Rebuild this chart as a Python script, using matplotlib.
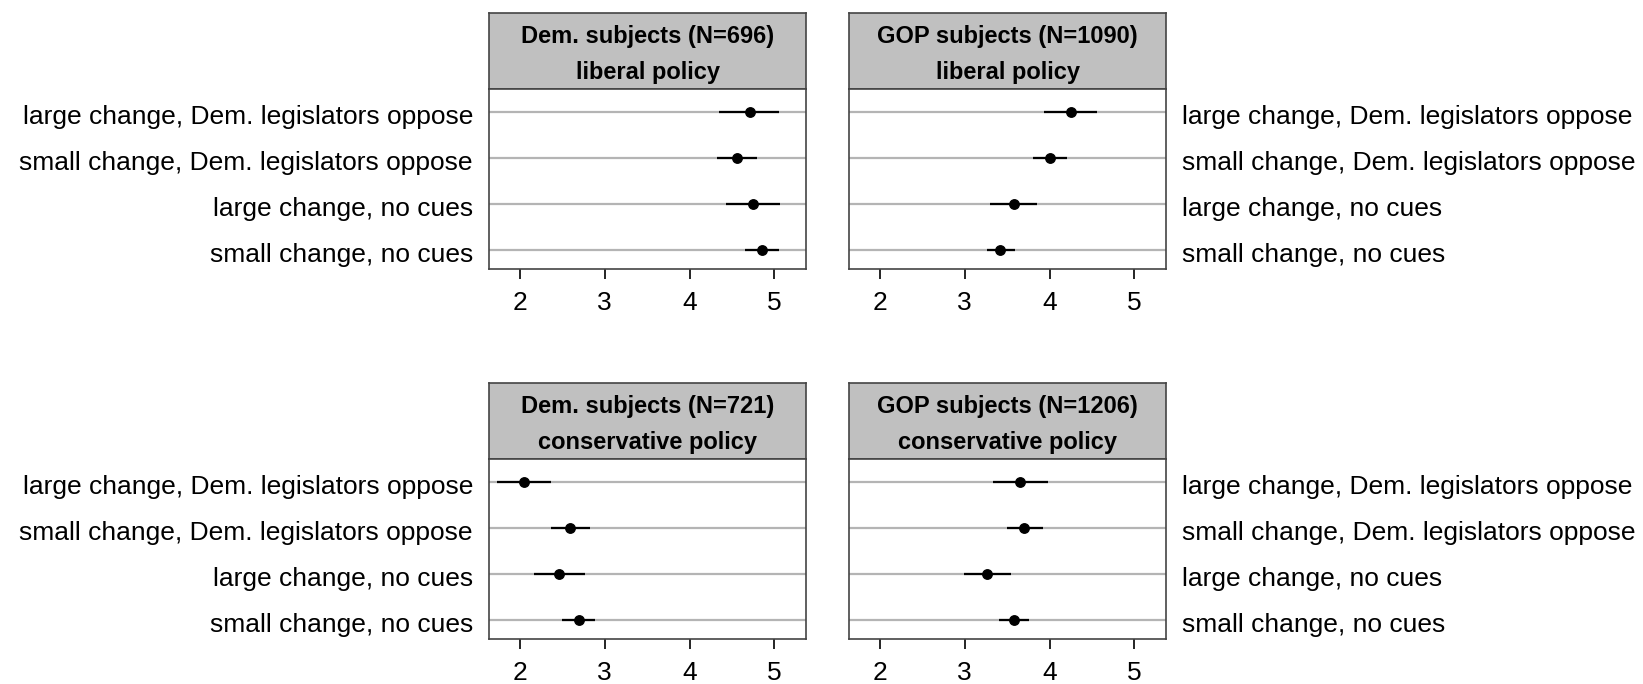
import numpy as np
import matplotlib.pyplot as plt

plt.rcParams['font.family'] = ['Liberation Sans', 'DejaVu Sans']

conditions = ['large change, Dem. legislators oppose',
              'small change, Dem. legislators oppose',
              'large change, no cues',
              'small change, no cues']

titles = [('Dem. subjects (N=696)', 'liberal policy'),
          ('GOP subjects (N=1090)', 'liberal policy'),
          ('Dem. subjects (N=721)', 'conservative policy'),
          ('GOP subjects (N=1206)', 'conservative policy')]

# means and 95% intervals, same order as conditions (top to bottom)
dem_lib_mean = [4.71, 4.56, 4.75, 4.85]
dem_lib_lo = [4.35, 4.32, 4.43, 4.66]
dem_lib_hi = [5.06, 4.80, 5.07, 5.05]

gop_lib_mean = [4.25, 4.00, 3.58, 3.42]
gop_lib_lo = [3.93, 3.80, 3.30, 3.26]
gop_lib_hi = [4.56, 4.21, 3.85, 3.59]

dem_con_mean = [2.05, 2.59, 2.46, 2.69]
dem_con_lo = [1.73, 2.37, 2.16, 2.50]
dem_con_hi = [2.37, 2.82, 2.77, 2.89]

gop_con_mean = [3.65, 3.70, 3.26, 3.58]
gop_con_lo = [3.33, 3.50, 2.99, 3.40]
gop_con_hi = [3.98, 3.92, 3.54, 3.76]

panels = [(dem_lib_mean, dem_lib_lo, dem_lib_hi),
          (gop_lib_mean, gop_lib_lo, gop_lib_hi),
          (dem_con_mean, dem_con_lo, dem_con_hi),
          (gop_con_mean, gop_con_lo, gop_con_hi)]

W, H = 1643, 684
fig = plt.figure(figsize=(W / 100, H / 100), dpi=100)


def px_axes(x0, y0, x1, y1):
    return fig.add_axes([x0 / W, 1 - y1 / H, (x1 - x0) / W, (y1 - y0) / H])


frame = '#444444'
# (left, right, strip top, strip bottom, plot bottom)
boxes = [(489, 806, 13, 89, 269),
         (849, 1166, 13, 89, 269),
         (489, 806, 383, 459, 639),
         (849, 1166, 383, 459, 639)]

ypos = np.arange(len(conditions), 0, -1)

for i, ((x0, x1, s0, s1, b), (m, lo, hi), (t1, t2)) in enumerate(zip(boxes, panels, titles)):
    strip = px_axes(x0, s0, x1, s1)
    strip.set_facecolor('#c0c0c0')
    strip.set_xticks([])
    strip.set_yticks([])
    for sp in strip.spines.values():
        sp.set_color(frame)
        sp.set_linewidth(1.2)
    strip.text(0.5, 0.73, t1, ha='center', va='center_baseline', fontsize=17,
               fontweight='bold', transform=strip.transAxes)
    strip.text(0.5, 0.25, t2, ha='center', va='center_baseline', fontsize=17,
               fontweight='bold', transform=strip.transAxes)

    ax = px_axes(x0, s1, x1, b)
    for y in ypos:
        ax.axhline(y, color='#b4b4b4', lw=1.6, zorder=1)
    ax.hlines(ypos, lo, hi, color='black', lw=1.6, zorder=2)
    ax.plot(m, ypos, 'o', color='black', ms=6.8, zorder=3)
    ax.set_xlim(1.634, 5.374)
    ax.set_ylim(0.596, 4.508)
    ax.set_xticks([2, 3, 4, 5])
    ax.tick_params(axis='x', length=7, width=1.2, labelsize=19, pad=9,
                   colors='black')
    ax.set_yticks([])
    for sp in ax.spines.values():
        sp.set_color(frame)
        sp.set_linewidth(1.2)

    # row labels, left of the left column and right of the right column
    for y, lab in zip(ypos, conditions):
        ypix = ax.transData.transform((0, y))[1] - 2
        if i % 2 == 0:
            fig.text((x0 - 16) / W, ypix / H, lab, fontsize=19, ha='right',
                     va='center_baseline')
        else:
            fig.text((x1 + 16) / W, ypix / H, lab, fontsize=19, ha='left',
                     va='center_baseline')

fig.savefig('out.png', dpi=100)
